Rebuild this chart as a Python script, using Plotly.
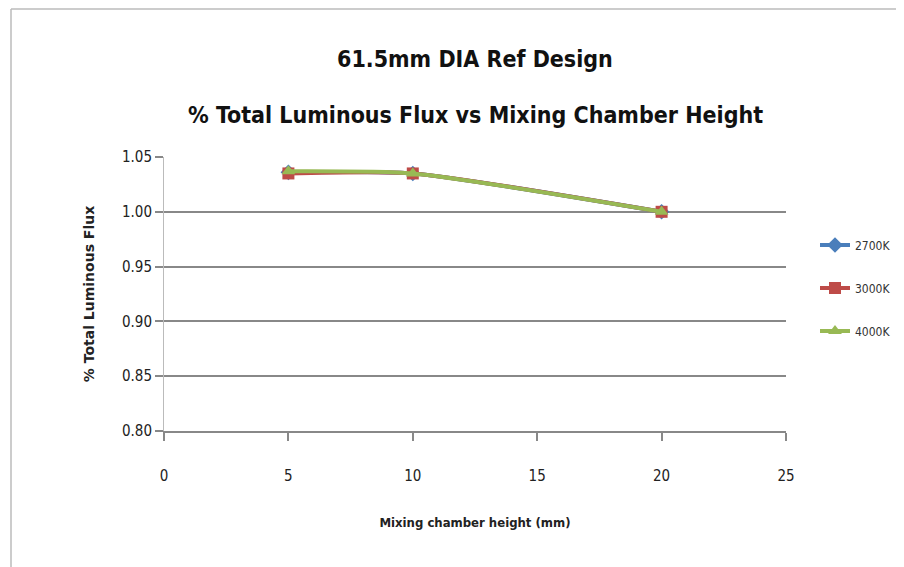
import plotly.graph_objects as go

x_vals = [5, 10, 20]
series_names = ["2700K", "3000K", "4000K"]
y_2700 = [1.036, 1.035, 1.000]
y_3000 = [1.035, 1.035, 1.000]
y_4000 = [1.037, 1.035, 1.000]
colors = ["#4a7ebb", "#be4b48", "#98b954"]
symbols = ["diamond", "square", "triangle-up"]

title_lines = ["61.5mm DIA Ref Design", "% Total Luminous Flux vs Mixing Chamber Height"]
x_title = "Mixing chamber height (mm)"
y_title = "% Total Luminous Flux"

cond = "DejaVu Sans Condensed, Liberation Sans Narrow, sans-serif"

# plot area in reference pixels
PX0, PX1, PY0, PY1 = 163, 785, 156, 430
def px(x):
    return (x - PX0) / (PX1 - PX0)
def py(y):
    return (PY1 - y) / (PY1 - PY0)

fig = go.Figure()
for name, ys, c, s in zip(series_names, [y_2700, y_3000, y_4000], colors, symbols):
    fig.add_trace(go.Scatter(
        x=x_vals, y=ys, name=name, mode="lines+markers", legendgroup=name,
        line=dict(color=c, width=4, shape="spline", smoothing=0.6),
        marker=dict(symbol=s, size=12, color=c),
    ))

fig.update_layout(
    width=904, height=567,
    margin=dict(l=156, r=126, t=149, b=144),
    paper_bgcolor="white", plot_bgcolor="white",
    showlegend=True,
    legend=dict(x=px(814), y=py(287), xanchor="left", yanchor="middle",
                font=dict(family=cond, size=12, color="#333"),
                tracegroupgap=24, itemwidth=30),
    annotations=[
        dict(text="<b>" + title_lines[0] + "</b>", x=0.5, y=py(58), xref="paper", yref="paper",
             showarrow=False, xanchor="center", yanchor="middle",
             font=dict(family=cond, size=23, color="#111")),
        dict(text="<b>" + title_lines[1] + "</b>", x=0.5, y=py(114), xref="paper", yref="paper",
             showarrow=False, xanchor="center", yanchor="middle",
             font=dict(family=cond, size=23, color="#111")),
    ],
    shapes=[
        dict(type="line", xref="paper", yref="paper",
             x0=px(10), x1=px(904), y0=py(8), y1=py(8),
             line=dict(color="#bbbbbb", width=1.5)),
        dict(type="line", xref="paper", yref="paper",
             x0=px(10), x1=px(10), y0=py(8), y1=py(567),
             line=dict(color="#bbbbbb", width=1.5)),
    ],
)

fig.update_xaxes(
    range=[0, 25], tickvals=[0, 5, 10, 15, 20, 25], showgrid=False,
    showline=True, linecolor="#888888", linewidth=2,
    ticks="outside", ticklen=8, tickcolor="#888888", tickwidth=2,
    ticklabelstandoff=22,
    tickfont=dict(family=cond, size=15, color="#222"),
    title=dict(text="<b>" + x_title + "</b>", font=dict(family=cond, size=13, color="#222"), standoff=34),
    zeroline=False,
)
fig.update_yaxes(
    range=[0.80, 1.05], tickvals=[0.80, 0.85, 0.90, 0.95, 1.00, 1.05], tickformat=".2f",
    showgrid=True, gridcolor="#888888", gridwidth=2,
    showline=True, linecolor="#bbbbbb", linewidth=1,
    ticks="outside", ticklen=8, tickcolor="#888888", tickwidth=2,
    tickfont=dict(family=cond, size=15, color="#222"),
    title=dict(text="<b>" + y_title + "</b>", font=dict(family="DejaVu Sans", size=14, color="#222"), standoff=24),
    zeroline=False,
)

fig.write_html("out.html")
